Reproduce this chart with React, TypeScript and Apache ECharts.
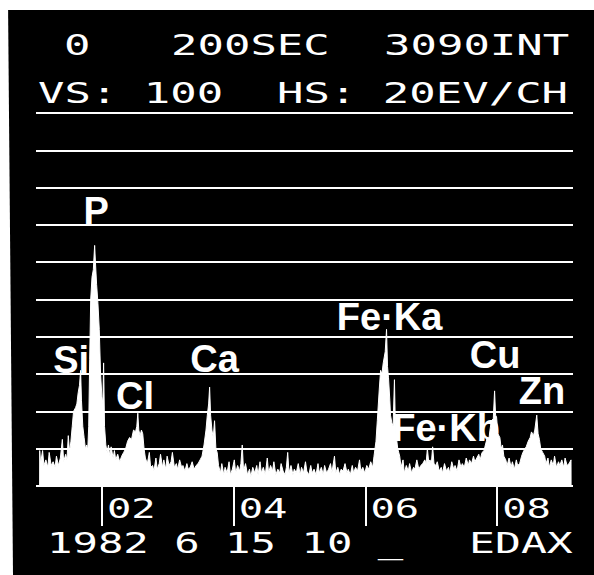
import React, { useEffect, useRef } from "react";
import * as echarts from "echarts";

// Spectrum: [energy keV, counts in grid units]
const spectrumPoints: [number, number][] = [
  [1.055, 0], [1.056, 0.95], [1.07, 0.6], [1.1, 0.95], [1.12, 0.55], [1.15, 0.7], [1.18, 0.5],
  [1.2, 0.9], [1.23, 0.55], [1.26, 0.65], [1.29, 0.5], [1.31, 0.8], [1.34, 0.55], [1.37, 0.75],
  [1.4, 1.25], [1.42, 0.65], [1.45, 0.85], [1.47, 0.7], [1.49, 1.35], [1.51, 0.9], [1.53, 1.2],
  [1.55, 1.6], [1.57, 2.0], [1.6, 2.1], [1.62, 2.2], [1.64, 2.5], [1.66, 2.7], [1.677, 3.1],
  [1.69, 2.3], [1.71, 1.6], [1.73, 1.3], [1.75, 1.0], [1.77, 1.1], [1.785, 0.95], [1.8, 1.6],
  [1.815, 3.4], [1.83, 5.0], [1.85, 5.6], [1.87, 5.8], [1.89, 6.45], [1.905, 5.9], [1.92, 5.4],
  [1.94, 4.9], [1.96, 4.2], [1.98, 3.0], [2.0, 2.4], [2.015, 2.2], [2.026, 3.3], [2.04, 1.6],
  [2.06, 1.1], [2.08, 0.9], [2.1, 1.1], [2.12, 0.8], [2.14, 1.05], [2.17, 0.75], [2.19, 0.95],
  [2.21, 0.7], [2.24, 0.85], [2.27, 0.65], [2.3, 0.8], [2.33, 0.9], [2.36, 1.0], [2.39, 1.2],
  [2.42, 1.3], [2.45, 1.25], [2.48, 1.5], [2.51, 1.45], [2.53, 1.6], [2.545, 1.95], [2.56, 1.5],
  [2.58, 1.35], [2.6, 1.5], [2.62, 1.4], [2.64, 1.0], [2.66, 0.75], [2.69, 0.6], [2.72, 0.9],
  [2.74, 0.5], [2.77, 0.55], [2.79, 0.4], [2.82, 0.75], [2.84, 0.45], [2.87, 0.6], [2.89, 0.85],
  [2.92, 0.5], [2.94, 0.7], [2.97, 0.45], [2.99, 0.8], [3.02, 0.55], [3.05, 0.65], [3.07, 0.9],
  [3.1, 0.5], [3.13, 0.6], [3.15, 0.45], [3.18, 0.7], [3.21, 0.5], [3.23, 0.55], [3.26, 0.4],
  [3.29, 0.6], [3.31, 0.45], [3.34, 0.5], [3.37, 0.65], [3.4, 0.45], [3.43, 0.55], [3.46, 0.6],
  [3.49, 0.7], [3.52, 0.8], [3.55, 1.1], [3.58, 1.5], [3.6, 1.9], [3.62, 2.2], [3.635, 2.65],
  [3.65, 1.9], [3.67, 1.5], [3.69, 1.3], [3.71, 1.75], [3.73, 1.0], [3.75, 0.9], [3.77, 0.55],
  [3.8, 0.35], [3.82, 0.6], [3.85, 0.3], [3.87, 0.5], [3.9, 0.35], [3.93, 0.65], [3.95, 0.3],
  [3.98, 0.45], [4.01, 0.7], [4.03, 0.35], [4.06, 0.55], [4.09, 0.4], [4.11, 0.6], [4.13, 1.1],
  [4.15, 0.4], [4.18, 0.6], [4.21, 0.3], [4.24, 0.45], [4.26, 0.25], [4.29, 0.5], [4.32, 0.35],
  [4.35, 0.55], [4.37, 0.3], [4.4, 0.65], [4.42, 0.35], [4.45, 0.5], [4.48, 0.3], [4.51, 0.75],
  [4.53, 0.35], [4.56, 0.55], [4.59, 0.4], [4.61, 0.65], [4.64, 0.3], [4.67, 0.45], [4.7, 0.35],
  [4.72, 0.6], [4.75, 0.4], [4.78, 0.3], [4.8, 0.5], [4.82, 0.9], [4.84, 0.35], [4.87, 0.55],
  [4.9, 0.3], [4.92, 0.45], [4.95, 0.35], [4.98, 0.6], [5.01, 0.3], [5.03, 0.5], [5.06, 0.35],
  [5.09, 0.65], [5.11, 0.4], [5.14, 0.3], [5.17, 0.55], [5.19, 0.35], [5.22, 0.45], [5.25, 0.3],
  [5.28, 0.6], [5.3, 0.35], [5.33, 0.5], [5.36, 0.3], [5.38, 0.55], [5.41, 0.35], [5.44, 0.45],
  [5.47, 0.6], [5.49, 0.35], [5.53, 0.8], [5.55, 0.35], [5.58, 0.5], [5.61, 0.3], [5.63, 0.45],
  [5.66, 0.4], [5.69, 0.6], [5.72, 0.35], [5.74, 0.45], [5.77, 0.3], [5.8, 0.55], [5.82, 0.35],
  [5.85, 0.5], [5.88, 0.4], [5.91, 0.7], [5.93, 0.4], [5.96, 0.5], [5.99, 0.35], [6.02, 0.55],
  [6.05, 0.45], [6.08, 0.65], [6.11, 0.5], [6.13, 0.8], [6.16, 1.2], [6.18, 1.75], [6.21, 2.6],
  [6.23, 3.1], [6.25, 3.0], [6.27, 3.3], [6.3, 3.6], [6.32, 4.2], [6.335, 3.2], [6.35, 2.9],
  [6.37, 2.3], [6.38, 1.9], [6.4, 1.7], [6.42, 1.6], [6.44, 2.85], [6.455, 1.5], [6.47, 1.3],
  [6.49, 1.0], [6.52, 0.8], [6.54, 0.5], [6.57, 0.7], [6.59, 0.35], [6.62, 0.55], [6.65, 0.4],
  [6.67, 0.6], [6.7, 0.35], [6.73, 0.5], [6.75, 0.45], [6.78, 0.7], [6.81, 0.45], [6.84, 0.55],
  [6.87, 0.6], [6.9, 0.7], [6.92, 0.6], [6.94, 1.0], [6.96, 0.65], [6.98, 0.7], [7.0, 0.6],
  [7.02, 1.05], [7.04, 0.6], [7.07, 0.55], [7.09, 0.65], [7.12, 0.4], [7.15, 0.5], [7.17, 0.35],
  [7.2, 0.6], [7.23, 0.4], [7.26, 0.5], [7.28, 0.35], [7.31, 0.65], [7.34, 0.45], [7.36, 0.55],
  [7.39, 0.4], [7.42, 0.7], [7.45, 0.5], [7.47, 0.6], [7.5, 0.5], [7.53, 0.75], [7.56, 0.55],
  [7.58, 0.7], [7.61, 0.6], [7.64, 0.8], [7.66, 0.65], [7.69, 0.75], [7.72, 0.85], [7.74, 0.7],
  [7.77, 0.9], [7.8, 0.95], [7.82, 1.1], [7.85, 1.3], [7.87, 1.2], [7.89, 1.5], [7.91, 1.75],
  [7.94, 1.8], [7.96, 2.55], [7.975, 1.9], [7.99, 1.85], [8.01, 1.4], [8.04, 1.3], [8.06, 1.0],
  [8.08, 1.1], [8.1, 0.8], [8.13, 0.7], [8.15, 0.55], [8.18, 0.75], [8.21, 0.5], [8.23, 0.65],
  [8.26, 0.45], [8.29, 0.7], [8.31, 0.55], [8.34, 0.6], [8.37, 0.8], [8.39, 0.9], [8.42, 1.0],
  [8.44, 1.05], [8.47, 1.2], [8.5, 1.3], [8.52, 1.45], [8.55, 1.35], [8.57, 1.5], [8.6, 1.9],
  [8.62, 1.4], [8.64, 1.25], [8.66, 1.0], [8.69, 0.9], [8.72, 0.8], [8.74, 0.6], [8.77, 0.75],
  [8.79, 0.5], [8.82, 0.7], [8.85, 0.55], [8.87, 0.8], [8.9, 0.5], [8.93, 0.65], [8.95, 0.55],
  [8.98, 0.7], [9.01, 0.5], [9.03, 0.75], [9.06, 0.55], [9.09, 0.6], [9.12, 0.7], [9.121, 0],
];

const tickValues = [2, 4, 6, 8];
const tickLabels = ["02", "04", "06", "08"];

const peakNames = ["P", "Si", "Cl", "Ca", "Fe·Ka", "Cu", "Zn", "Fe·Kb"];
const peakLabelX = [1.912, 1.533, 2.504, 3.71, 6.366, 7.967, 8.68, 7.223];
const peakLabelY = [7.36, 3.38, 2.41, 3.4, 4.53, 3.5, 2.55, 1.555];

const headerRow1 = ["0", "200SEC", "3090INT"];
const headerRow2 = ["VS: 100", "HS: 20EV/CH"];
const footerTexts = ["1982 6 15 10 _", "EDAX"];

const MONO = '"DejaVu Sans Mono", monospace';

function crt(text: string, left: number, cy: number, size: number, sx: number) {
  return {
    type: "text",
    x: left,
    y: cy,
    scaleX: sx,
    silent: true,
    z: 10,
    style: {
      text,
      fill: "#ffffff",
      font: `${size}px ${MONO}`,
      textAlign: "left",
      textVerticalAlign: "middle",
      align: "left",
      verticalAlign: "middle",
    },
  };
}

export default function App() {
  const ref = useRef<HTMLDivElement>(null);

  useEffect(() => {
    if (!ref.current) return;
    const chart = echarts.init(ref.current, undefined, { renderer: "svg" });

    const labelData = peakNames.map((n, i) => ({ name: n, value: [peakLabelX[i], peakLabelY[i]] }));

    chart.setOption({
      animation: false,
      backgroundColor: "#000000",
      grid: { left: 36, right: 21, top: 113, bottom: 89, containLabel: false },
      xAxis: {
        type: "value",
        min: 1.0,
        max: 9.15,
        axisLine: { show: false },
        splitLine: { show: false },
        axisTick: {
          show: true,
          customValues: tickValues,
          length: 40,
          inside: false,
          lineStyle: { color: "#ffffff", width: 2 },
        },
        axisLabel: { show: false },
      },
      yAxis: {
        type: "value",
        min: 0,
        max: 10,
        interval: 1,
        axisLine: { show: false },
        axisTick: { show: false },
        axisLabel: { show: false },
        splitLine: { show: true, lineStyle: { color: "#ffffff", width: 2 } },
      },
      series: [
        {
          type: "line",
          data: spectrumPoints,
          showSymbol: false,
          symbol: "none",
          silent: true,
          lineStyle: { color: "#ffffff", width: 1 },
          areaStyle: { color: "#ffffff", opacity: 1 },
          z: 3,
        },
        {
          type: "scatter",
          data: labelData,
          symbolSize: 1,
          silent: true,
          itemStyle: { color: "#000000" },
          label: {
            show: true,
            position: "inside",
            formatter: "{b}",
            color: "#ffffff",
            opacity: 1,
            textBorderWidth: 0,
            textBorderColor: "transparent",
            fontFamily: '"Liberation Sans", Arial, sans-serif',
            fontWeight: "bold",
            fontSize: 38,
          },
          emphasis: { disabled: true },
          z: 5,
        },
      ],
    });

    const tickTexts = tickValues.map((v, i) => {
      const px = chart.convertToPixel({ xAxisIndex: 0 }, v) as number;
      return crt(tickLabels[i], px + 5, 509, 27, 1.5);
    });

    chart.setOption({
      graphic: [
        { type: "rect", shape: { x: 0, y: 0, width: 594, height: 10 }, style: { fill: "#ffffff" } },
        { type: "polygon", shape: { points: [[0, 0], [8, 0], [13, 575], [0, 575]] }, style: { fill: "#ffffff" } },
        crt(headerRow1[0], 64, 46, 28, 1.57),
        crt(headerRow1[1], 171, 46, 28, 1.57),
        crt(headerRow1[2], 384, 46, 28, 1.57),
        crt(headerRow2[0], 38, 94, 28, 1.57),
        crt(headerRow2[1], 277, 94, 28, 1.57),
        crt(footerTexts[0], 47, 543, 28, 1.51),
        crt(footerTexts[1], 469, 543, 28, 1.54),
        ...tickTexts,
      ],
    });

    return () => chart.dispose();
  }, []);

  return <div ref={ref} style={{ position: "absolute", left: 0, top: 0, width: 594, height: 575 }} />;
}
